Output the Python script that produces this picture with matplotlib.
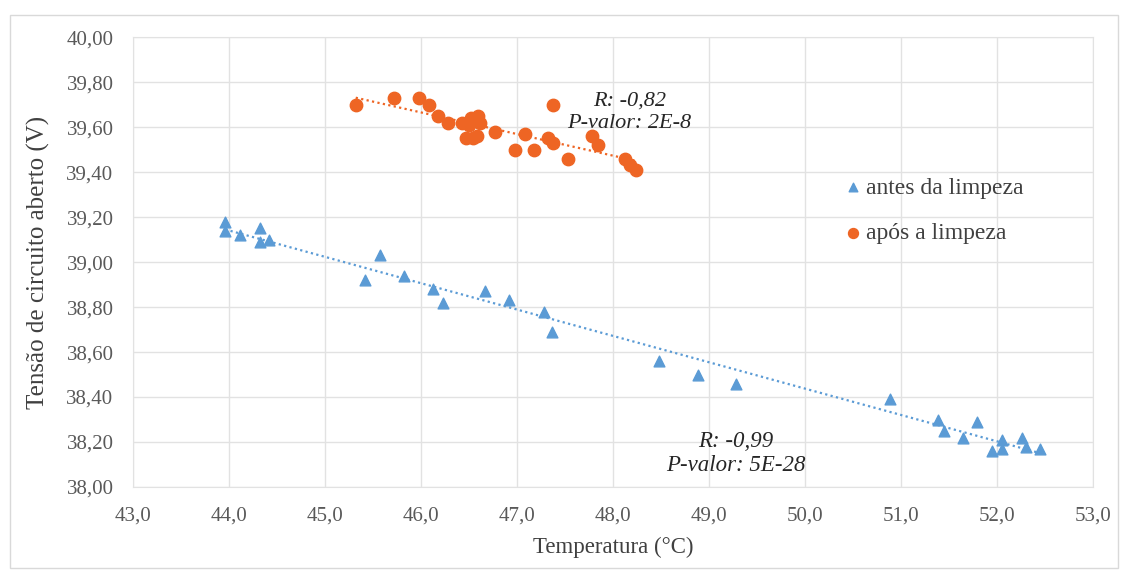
# Tensao de circuito aberto em funcao da temperatura, antes e apos a limpeza do modulo

import matplotlib.pyplot as plt
from matplotlib.ticker import FuncFormatter
from matplotlib.patches import Rectangle
import numpy as np

temp_antes = [43.96, 43.96, 44.11, 44.32, 44.32, 44.42, 45.42, 45.57, 45.82, 46.13,
              46.23, 46.67, 46.92, 47.28, 47.36, 48.48, 48.89, 49.28, 50.88, 51.39,
              51.45, 51.65, 51.79, 51.95, 52.05, 52.05, 52.26, 52.30, 52.45]
tensao_antes = [39.18, 39.14, 39.12, 39.15, 39.09, 39.10, 38.92, 39.03, 38.94, 38.88,
                38.82, 38.87, 38.83, 38.78, 38.69, 38.56, 38.50, 38.46, 38.39, 38.30,
                38.25, 38.22, 38.29, 38.16, 38.21, 38.17, 38.22, 38.18, 38.17]

temp_apos = [45.32, 45.72, 45.98, 46.08, 46.18, 46.28, 46.43, 46.50, 46.52, 46.59,
             46.61, 46.47, 46.54, 46.58, 46.77, 46.98, 47.08, 47.18, 47.32, 47.38,
             47.38, 47.53, 47.78, 47.84, 48.13, 48.18, 48.24]
tensao_apos = [39.70, 39.73, 39.73, 39.70, 39.65, 39.62, 39.62, 39.61, 39.64, 39.65,
               39.62, 39.55, 39.55, 39.56, 39.58, 39.50, 39.57, 39.50, 39.55, 39.53,
               39.70, 39.46, 39.56, 39.52, 39.46, 39.43, 39.41]

texto_antes = "R: -0,99\nP-valor: 5E-28"
texto_apos = "R: -0,82\nP-valor: 2E-8"

AZUL = "#5B9BD5"
LARANJA = "#EE6524"
CINZA = "#E2E2E2"


def virgula(casas):
    formato = "%." + str(casas) + "f"
    return FuncFormatter(lambda v, pos: (formato % v).replace(".", ","))


def linha_tendencia(ax, x, y, cor):
    a, b = np.polyfit(x, y, 1)
    xs = np.array([min(x), max(x)])
    ax.plot(xs, a * xs + b, linestyle=(0, (1, 1.5)), color=cor, linewidth=1.6, zorder=2)


def desenhar():
    plt.rcParams["font.family"] = ["Liberation Serif", "DejaVu Serif"]
    fig = plt.figure(figsize=(11.28, 5.72), dpi=100)
    ax = fig.add_axes([0.1179, 0.1486, 0.969 - 0.1179, 0.935 - 0.1486])

    linha_tendencia(ax, temp_antes, tensao_antes, AZUL)
    linha_tendencia(ax, temp_apos, tensao_apos, LARANJA)

    ax.scatter(temp_antes, tensao_antes, marker="^", s=60, color=AZUL,
               label="antes da limpeza", zorder=3)
    ax.scatter(temp_apos, tensao_apos, marker="o", s=80, color=LARANJA,
               label="após a limpeza", zorder=3)

    ax.set_xlim(43, 53)
    ax.set_ylim(38, 40)
    ax.set_xticks(np.arange(43, 53.5, 1.0))
    ax.set_yticks(np.arange(38, 40.01, 0.2))
    ax.xaxis.set_major_formatter(virgula(1))
    ax.yaxis.set_major_formatter(virgula(2))
    ax.tick_params(length=0, labelsize=15, labelcolor="#595959")
    ax.tick_params(axis="y", pad=14)
    ax.tick_params(axis="x", pad=14)
    ax.grid(True, color=CINZA, linewidth=1)
    ax.set_axisbelow(True)
    for lado in ax.spines.values():
        lado.set_color(CINZA)

    ax.set_xlabel("Temperatura (°C)", fontsize=16.5, color="#404040", labelpad=8)
    ax.set_ylabel("Tensão de circuito aberto (V)", fontsize=18, color="#404040", labelpad=12)

    ax.text(48.17, 39.665, texto_apos, ha="center", va="center", fontsize=16,
            style="italic", color="#262626", linespacing=1.25)
    ax.text(49.28, 38.15, texto_antes, ha="center", va="center", fontsize=16.5,
            style="italic", color="#262626", linespacing=1.2)

    leg = ax.legend(loc="upper left", bbox_to_anchor=(0.728, 0.71), frameon=False,
                    fontsize=17, handletextpad=0.05, handlelength=1.0,
                    labelspacing=1.0, borderaxespad=0, markerscale=0.8)
    for t in leg.get_texts():
        t.set_color("#404040")

    fig.patches.append(Rectangle((10 / 1128, 4 / 572), 1108 / 1128, 553 / 572,
                                 transform=fig.transFigure, fill=False,
                                 edgecolor="#D9D9D9", linewidth=1))

    plt.savefig("out.png", dpi=100)


def main():
    desenhar()


if __name__ == "__main__":
    main()
